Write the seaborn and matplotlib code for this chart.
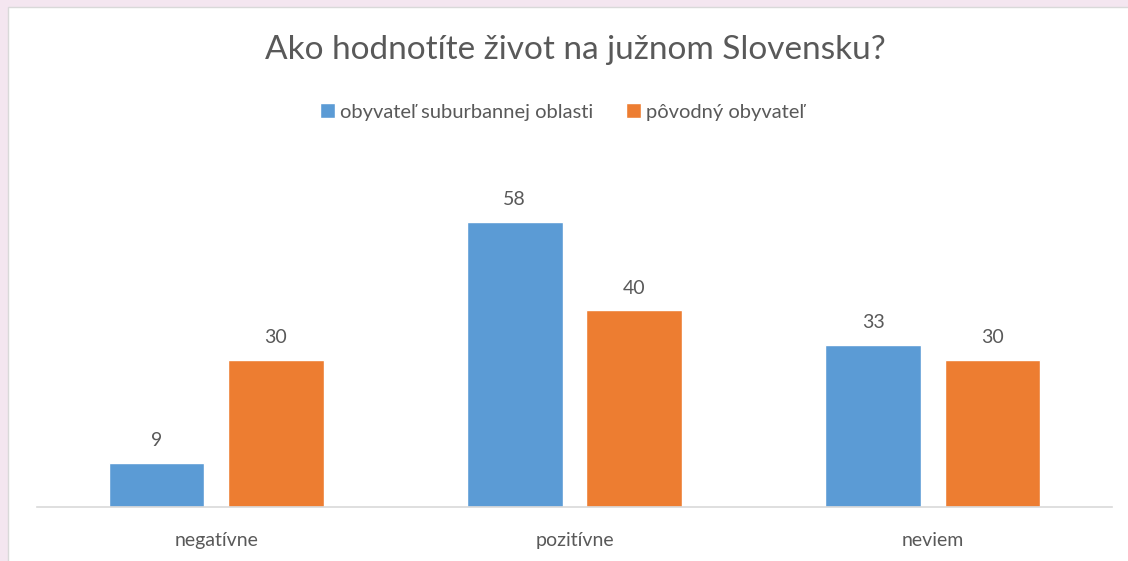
import matplotlib
matplotlib.use("Agg")
import matplotlib.pyplot as plt
import seaborn as sns
import pandas as pd
from matplotlib.patches import Rectangle

categories = ["negatívne", "pozitívne", "neviem"]
series_names = ["obyvateľ suburbannej oblasti", "pôvodný obyvateľ"]
suburban = [9, 58, 33]
original = [30, 40, 30]
colors = ["#5B9BD5", "#ED7D31"]

df = pd.DataFrame({
    "kategoria": categories * 2,
    "skupina": [series_names[0]] * 3 + [series_names[1]] * 3,
    "hodnota": suburban + original,
})

sns.set_theme(style="white")
plt.rcParams["font.family"] = ["Lato", "DejaVu Sans"]

W, H = 1128, 561
fig = plt.figure(figsize=(W / 100, H / 100), dpi=100)
fig.patch.set_facecolor("#F4E6F0")
# white chart area with light border
bg = Rectangle((8 / W, -0.1), 1.2, 1.1 - 7 / H, transform=fig.transFigure,
               facecolor="white", edgecolor="#D9D9D9", linewidth=1.0, zorder=-10)
fig.patches.append(bg)

ax_top_px, ax_bot_px = 160, 507
ax = fig.add_axes([37 / W, 1 - ax_bot_px / H, (1112 - 37) / W, (ax_bot_px - ax_top_px) / H])
ax.set_facecolor("none")
px_per_unit = 285 / 58
ax.set_ylim(0, (ax_bot_px - ax_top_px) / px_per_unit)

sns.barplot(data=df, x="kategoria", y="hodnota", hue="skupina", order=categories,
            hue_order=series_names, palette=colors, width=0.667, gap=0.2,
            saturation=1, ax=ax, legend=False, errorbar=None)
ax.set_xlim(-0.5, 2.5)

text_color = "#595959"
for cont in ax.containers:
    ax.bar_label(cont, labels=[f"{v:g}" for v in cont.datavalues], padding=10,
                 fontsize=14, color=text_color)

for s in ["top", "right", "left"]:
    ax.spines[s].set_visible(False)
ax.spines["bottom"].set_color("#D9D9D9")
ax.spines["bottom"].set_linewidth(1.2)
ax.set_yticks([])
ax.set_xlabel("")
ax.set_ylabel("")
ax.tick_params(axis="x", length=0, pad=18, labelsize=14, labelcolor=text_color)

fig.text(575 / W, 1 - 50 / H, "Ako hodnotíte život na južnom Slovensku?", ha="center",
         va="center", fontsize=24, color=text_color)

handles = [Rectangle((0, 0), 1, 1, facecolor=c) for c in colors]
fig.legend(handles, series_names, loc="center", bbox_to_anchor=(562 / W, 1 - 112 / H),
           ncol=2, frameon=False, fontsize=14.5, labelcolor=text_color, handlelength=0.75,
           handleheight=0.75, handletextpad=0.25, columnspacing=1.6)

fig.savefig("out.png", dpi=100, facecolor=fig.get_facecolor())
